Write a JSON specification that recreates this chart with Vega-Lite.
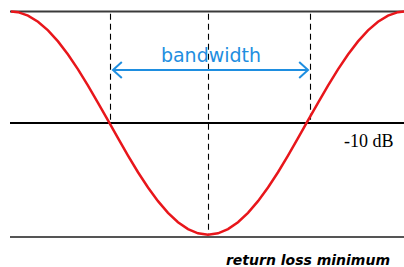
{
  "$schema": "https://vega.github.io/schema/vega-lite/v6.json",
  "width": 404,
  "height": 267,
  "autosize": {"type": "none"},
  "padding": 0,
  "background": "white",
  "config": {"view": {"stroke": null}},
  "datasets": {
    "curve": [
      {"f": 11, "db": 0}, {"f": 18, "db": -0.062}, {"f": 28, "db": -0.366}, {"f": 38, "db": -0.913},
      {"f": 48, "db": -1.696}, {"f": 58, "db": -2.68}, {"f": 68, "db": -3.855}, {"f": 78, "db": -5.185},
      {"f": 88, "db": -6.638}, {"f": 98, "db": -8.177}, {"f": 108, "db": -9.761}, {"f": 118, "db": -11.352},
      {"f": 128, "db": -12.909}, {"f": 138, "db": -14.399}, {"f": 148, "db": -15.766}, {"f": 158, "db": -16.988},
      {"f": 168, "db": -18.034}, {"f": 178, "db": -18.877}, {"f": 188, "db": -19.496}, {"f": 198, "db": -19.873},
      {"f": 208, "db": -20}, {"f": 218, "db": -19.873}, {"f": 228, "db": -19.496}, {"f": 238, "db": -18.877},
      {"f": 248, "db": -18.034}, {"f": 258, "db": -16.988}, {"f": 268, "db": -15.766}, {"f": 278, "db": -14.399},
      {"f": 288, "db": -12.909}, {"f": 298, "db": -11.352}, {"f": 308, "db": -9.761}, {"f": 318, "db": -8.177},
      {"f": 328, "db": -6.638}, {"f": 338, "db": -5.185}, {"f": 348, "db": -3.855}, {"f": 358, "db": -2.68},
      {"f": 368, "db": -1.696}, {"f": 378, "db": -0.913}, {"f": 388, "db": -0.366}, {"f": 398, "db": -0.062},
      {"f": 404, "db": 0}
    ],
    "hlines": [
      {"name": "top", "db": 0, "f1": 10, "f2": 404},
      {"name": "mid", "db": -10, "f1": 10, "f2": 404},
      {"name": "bottom", "db": -20.2, "f1": 10, "f2": 404}
    ],
    "vlines": [
      {"f": 110.5, "db1": -0.2, "db2": -10},
      {"f": 208.5, "db1": -0.2, "db2": -20},
      {"f": 310.5, "db1": -0.2, "db2": -10}
    ],
    "arrow": [{"f1": 113, "f2": 308, "db": -5.24}],
    "heads": [{"side": "left", "f": 113, "db": -5.24}, {"side": "right", "f": 308, "db": -5.24}],
    "labels": [{"text": "bandwidth", "f": 211, "db": -3.99}]
  },
  "encoding": {
    "x": {"type": "quantitative", "scale": {"domain": [0, 404], "nice": false, "zero": false}, "axis": null},
    "y": {"type": "quantitative", "scale": {"domain": [-22.89, 1.03], "nice": false, "zero": false}, "axis": null}
  },
  "layer": [
    {
      "data": {"name": "hlines"},
      "mark": {"type": "rule"},
      "encoding": {
        "x": {"field": "f1", "type": "quantitative"},
        "x2": {"field": "f2"},
        "y": {"field": "db", "type": "quantitative"},
        "color": {"field": "name", "type": "nominal", "scale": {"domain": ["top", "mid", "bottom"], "range": ["#3a3a3a", "#000000", "#555555"]}, "legend": null},
        "strokeWidth": {"field": "name", "type": "nominal", "scale": {"domain": ["top", "mid", "bottom"], "range": [2, 2, 1.6]}, "legend": null}
      }
    },
    {
      "data": {"name": "vlines"},
      "mark": {"type": "rule", "color": "#000000", "strokeWidth": 1.1, "strokeDash": [6, 4]},
      "encoding": {
        "x": {"field": "f", "type": "quantitative"},
        "y": {"field": "db1", "type": "quantitative"},
        "y2": {"field": "db2"}
      }
    },
    {
      "data": {"name": "curve"},
      "mark": {"type": "line", "color": "#e8161b", "strokeWidth": 2.5},
      "encoding": {
        "x": {"field": "f", "type": "quantitative"},
        "y": {"field": "db", "type": "quantitative"}
      }
    },
    {
      "data": {"name": "arrow"},
      "mark": {"type": "rule", "color": "#1e8ee0", "strokeWidth": 2},
      "encoding": {
        "x": {"field": "f1", "type": "quantitative"},
        "x2": {"field": "f2"},
        "y": {"field": "db", "type": "quantitative"}
      }
    },
    {
      "data": {"name": "heads"},
      "transform": [{"filter": "datum.side === 'left'"}],
      "mark": {"type": "point", "shape": "M1.1,-1L0,0L1.1,1", "filled": false, "stroke": "#1e8ee0", "strokeWidth": 2, "size": 256, "opacity": 1},
      "encoding": {
        "x": {"field": "f", "type": "quantitative"},
        "y": {"field": "db", "type": "quantitative"}
      }
    },
    {
      "data": {"name": "heads"},
      "transform": [{"filter": "datum.side === 'right'"}],
      "mark": {"type": "point", "shape": "M-1.1,-1L0,0L-1.1,1", "filled": false, "stroke": "#1e8ee0", "strokeWidth": 2, "size": 256, "opacity": 1},
      "encoding": {
        "x": {"field": "f", "type": "quantitative"},
        "y": {"field": "db", "type": "quantitative"}
      }
    },
    {
      "data": {"name": "labels"},
      "mark": {"type": "text", "color": "#1e8ee0", "font": "DejaVu Sans", "fontSize": 19, "align": "center", "baseline": "middle"},
      "encoding": {
        "x": {"field": "f", "type": "quantitative"},
        "y": {"field": "db", "type": "quantitative"},
        "text": {"field": "text"}
      }
    },
    {
      "data": {"values": [{"text": "-10 dB", "f": 344, "db": -12.14}]},
      "mark": {"type": "text", "color": "#000000", "font": "Liberation Serif", "fontSize": 18, "align": "left", "baseline": "alphabetic"},
      "encoding": {
        "x": {"field": "f", "type": "quantitative"},
        "y": {"field": "db", "type": "quantitative"},
        "text": {"field": "text"}
      }
    },
    {
      "data": {"values": [{"text": "return loss minimum", "f": 390, "db": -22.67}]},
      "mark": {"type": "text", "color": "#000000", "font": "DejaVu Sans", "fontSize": 14, "fontStyle": "italic", "fontWeight": "bold", "align": "right", "baseline": "alphabetic"},
      "encoding": {
        "x": {"field": "f", "type": "quantitative"},
        "y": {"field": "db", "type": "quantitative"},
        "text": {"field": "text"}
      }
    }
  ]
}
